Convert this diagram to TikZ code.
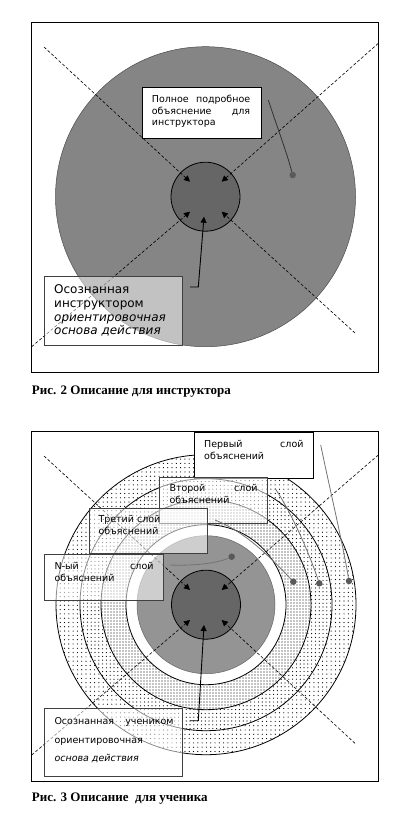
\documentclass[tikz,border=0pt]{standalone}
\usepackage{fontspec}
\setmainfont{DejaVu Sans}
\newfontfamily\capfont{Liberation Serif}
\usetikzlibrary{patterns,patterns.meta,arrows.meta}
\newcommand{\jl}[3]{\hbox to #1{#2\hfill #3}}
\begin{document}
\begin{tikzpicture}[x=1pt,y=-1pt,
 frm/.style={draw=black, line width=0.9pt},
 ax/.style={line width=0.6pt, dash pattern=on 3pt off 2pt, -{Triangle[length=6pt,width=6pt]}},
 ptr/.style={line width=0.9pt, -{Triangle[length=6pt,width=6pt]}},
 lbl/.style={draw=black, line width=0.8pt, fill=white, anchor=north west, inner sep=0pt},
 tbox/.style={draw=black!75, line width=0.8pt, fill=white, fill opacity=0.55, anchor=north west, inner sep=0pt},
 tx/.style={anchor=base west, inner sep=0pt, font=\fontsize{9.5}{11}\selectfont},
 txb/.style={anchor=base west, inner sep=0pt, font=\fontsize{12}{14}\selectfont},
 captxt/.style={anchor=base west, inner sep=0pt, font=\capfont\bfseries\fontsize{13}{15}\selectfont},
 lead/.style={draw=black!55, line width=0.8pt},
 dotmark/.style={circle, fill=black!65, inner sep=0pt, minimum size=6.5pt},
 ring/.style={draw=black, line width=0.8pt},
]
\useasboundingbox (0,0) rectangle (416,816);
\fill[white] (0,0) rectangle (416,816);

%%%%%%%%%%%%%%%% Diagram 1
\draw[frm] (31.7,22.7) rectangle (378,372.7);
\coordinate (c1) at (205.5,196.7);
\fill[black!48] (c1) circle (150);
\draw[draw=black!70, line width=0.5pt] (c1) circle (150);
\filldraw[fill=black!60, ring] (c1) circle (34.5);

\coordinate (a1) at (44,47);     \coordinate (h1) at (190,181.7);
\coordinate (a2) at (378.3,43.3); \coordinate (h2) at (221.7,181.7);
\coordinate (a3) at (31.7,346.7); \coordinate (h3) at (190,211.7);
\coordinate (a4) at (355,333);   \coordinate (h4) at (221.7,211.7);
\draw[ax] (a1) -- (h1);
\draw[ax] (a2) -- (h2);
\draw[ax] (a3) -- (h3);
\draw[ax] (a4) -- (h4);

% top label
\node[lbl, minimum width=119pt, minimum height=51.6pt] (b1) at (141.7,86.7) {};
\node[tx] (b1l1) at (151.7,102) {\jl{98.3pt}{Полное}{подробное}};
\node[tx] (b1l2) at (151.7,114) {\jl{98.3pt}{объяснение}{для}};
\node[tx] (b1l3) at (151.7,125.7) {инструктора};
\coordinate (s1) at (268.3,100);
\node[dotmark] (d1) at (292.7,175) {};
\draw[lead, draw=black!80] (s1) .. controls (276,124) and (286,150) .. (d1);

% bottom label
\node[tbox, fill opacity=0.5, minimum width=138pt, minimum height=69.3pt] (b2) at (44.3,276) {};
\node[txb] (b2l1) at (54,293.5) {Осознанная};
\node[txb] (b2l2) at (54,307) {инструктором};
\node[txb] (b2l3) at (54,321) {\itshape ориентировочная};
\node[txb] (b2l4) at (54,334.5) {\itshape основа действия};
\coordinate (e1) at (190,287);
\coordinate (e2) at (198.3,287);
\coordinate (e3) at (204,216.7);
\draw[ptr] (e1) -- (e2) -- (e3);

\node[captxt] (cap1) at (31.7,394) {Рис. 2 Описание для инструктора};

%%%%%%%%%%%%%%%% Diagram 2
\draw[frm] (31.7,431.7) rectangle (378.3,781.7);
\coordinate (c2) at (206,604.7);
\fill[white] (c2) circle (150);
\fill[pattern={Dots[distance=4.3pt,radius=0.6pt]}] (c2) circle (150);
\draw[ring] (c2) circle (150);
\fill[white] (c2) circle (126);
\fill[pattern={Dots[distance=3.8pt,radius=0.6pt]}] (c2) circle (126);
\draw[ring] (c2) circle (126);
\fill[white] (c2) circle (105);
\fill[pattern={Dots[distance=3pt,radius=0.6pt]}] (c2) circle (105);
\draw[ring] (c2) circle (105);
\filldraw[fill=white, ring] (c2) circle (80);
\filldraw[fill=black!42, draw=black!60, line width=0.5pt] (c2) circle (69);
\filldraw[fill=black!60, ring] (c2) circle (34.5);

\coordinate (f1) at (44,456);     \coordinate (g1) at (190,590);
\coordinate (f2) at (378.3,455);  \coordinate (g2) at (221.7,590);
\coordinate (f3) at (31.7,755);   \coordinate (g3) at (190,620);
\coordinate (f4) at (355,743.3);  \coordinate (g4) at (221.7,620);
\draw[ax] (f1) -- (g1);
\draw[ax] (f2) -- (g2);
\draw[ax] (f3) -- (g3);
\draw[ax] (f4) -- (g4);

% labels
\node[lbl, minimum width=118.4pt, minimum height=46pt] (p1) at (194.3,432.3) {};
\node[tx] (p1l1) at (204,447.3) {\jl{99.3pt}{Первый}{слой}};
\node[tx] (p1l2) at (204,459.7) {объяснений};

\node[tbox, minimum width=107.4pt, minimum height=46pt] (p2) at (159.3,476.7) {};
\node[tx] (p2l1) at (169.3,491.3) {\jl{88pt}{Второй}{слой}};
\node[tx] (p2l2) at (169.3,503) {объяснений};

\node[tbox, minimum width=118pt, minimum height=45.6pt] (p3) at (88.7,507.7) {};
\node[tx] (p3l1) at (98.3,522.3) {Третий слой};
\node[tx] (p3l2) at (98.3,534.7) {объяснений};

\node[tbox, minimum width=119pt, minimum height=46pt] (p4) at (44.3,554) {};
\node[tx] (p4l1) at (54.3,569) {\jl{99pt}{N-ый}{слой}};
\node[tx] (p4l2) at (54.3,581.3) {объяснений};

\node[tbox, minimum width=138pt, minimum height=67.4pt] (p5) at (44.3,708.3) {};
\node[tx] (p5l1) at (54.3,724.7) {\jl{119pt}{Осознанная}{учеником}};
\node[tx] (p5l2) at (54.3,743) {ориентировочная};
\node[tx] (p5l3) at (54.3,761.3) {\itshape основа действия};

% leaders
\coordinate (q1) at (320.7,445);   \node[dotmark] (r1) at (349,581) {};
\coordinate (q2) at (275,488.3);   \node[dotmark] (r2) at (319.3,583.3) {};
\coordinate (q3) at (215,520);     \node[dotmark] (r3) at (293.3,581.7) {};
\coordinate (q4) at (170,565);     \node[dotmark] (r4) at (231.7,556.7) {};
\draw[lead] (q1) .. controls (330,490) and (342,540) .. (r1);
\draw[lead] (q2) .. controls (290,510) and (308,550) .. (r2);
\draw[lead] (q3) .. controls (240,530) and (262,548) .. (r3);
\draw[lead] (q4) .. controls (195,566) and (218,563) .. (r4);

\coordinate (k1) at (190,720.7);
\coordinate (k2) at (198.3,720.7);
\coordinate (k3) at (204,625);
\draw[ptr] (k1) -- (k2) -- (k3);

\node[captxt] (cap2) at (31.7,801) {Рис. 3 Описание \ для ученика};
\end{tikzpicture}
\end{document}
